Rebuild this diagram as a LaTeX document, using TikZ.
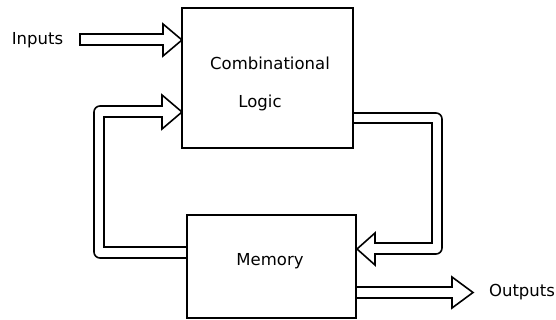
\documentclass[tikz,border=0pt]{standalone}
\usepackage{fontspec}
\setmainfont{DejaVu Sans}
\usetikzlibrary{positioning, calc}

\begin{document}
\begin{tikzpicture}[
    x=1pt, y=-1pt,
    block/.style={
        rectangle, draw=black, line width=1.3pt, fill=white,
        inner sep=0pt,
    },
    label/.style={font=\fontsize{16.5}{19}\selectfont, inner sep=0pt},
    fat/.style={draw=black, line width=1.6pt, fill=white, line join=miter},
]
\useasboundingbox (0,0) rectangle (556,320);

% Fat arrows
\draw[fat] (80,34) -- (163,34) -- (163,24) -- (182,40) -- (163,56) -- (163,45) -- (80,45) -- cycle;
\draw[fat] (188,258) [rounded corners=6pt] -- (94,258) -- (94,106)
    [sharp corners] -- (162,106) -- (162,95) -- (182,112) -- (162,129) -- (162,117) -- (104,117) -- (104,247) -- (188,247);
\draw[fat] (352,113) [rounded corners=6pt] -- (442,113) -- (442,254)
    [sharp corners] -- (375,254) -- (375,265) -- (357,249) -- (375,233) -- (375,243) -- (432,243) -- (432,123) -- (352,123);
\draw[fat] (357,287) -- (452,287) -- (452,277) -- (473,292.5) -- (452,308) -- (452,298) -- (357,298);

% Boxes
\node[block, minimum width=171pt, minimum height=140pt] (logic) at (267.5,78) {};
\node[block, minimum width=169pt, minimum height=103pt] (memory) at (271.5,266.5) {};

% Texts
\node[label] (inputs) at (37.5,40) {Inputs};
\node[label] (comb) at (270,63) {Combinational};
\node[label] (logictxt) at (260,103) {Logic};
\node[label] (memtxt) at (270,261) {Memory};
\node[label] (outputs) at (522,292) {Outputs};

\end{tikzpicture}
\end{document}
